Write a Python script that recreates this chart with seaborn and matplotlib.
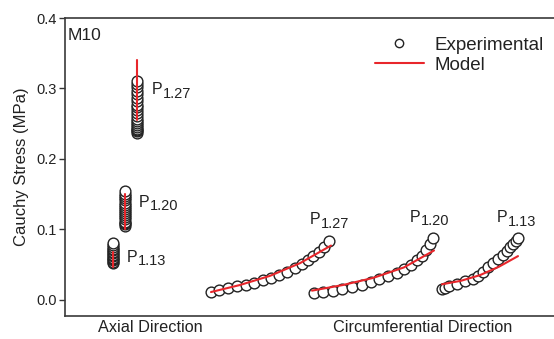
import matplotlib
matplotlib.use("Agg")
import matplotlib.pyplot as plt
import seaborn as sns
import pandas as pd
from matplotlib.lines import Line2D

# ---- data ----
# axial direction: stacked points at one position per pressure
ax_x = {"P1.13": 113, "P1.20": 125, "P1.27": 137}
ax_exp_113 = [0.052, 0.054, 0.056, 0.058, 0.060, 0.062, 0.064, 0.066, 0.068, 0.070, 0.072, 0.075, 0.078, 0.080]
ax_exp_120 = [0.105, 0.107, 0.109, 0.111, 0.114, 0.117, 0.120, 0.123, 0.126, 0.129, 0.132, 0.135, 0.138, 0.141, 0.144, 0.147, 0.150, 0.155]
ax_exp_127 = [0.237, 0.239, 0.241, 0.243, 0.245, 0.248, 0.251, 0.254, 0.257, 0.261, 0.265, 0.269, 0.273, 0.277,
              0.282, 0.287, 0.292, 0.297, 0.302, 0.306, 0.310]
ax_mod_113 = [0.047, 0.068]
ax_mod_120 = [0.100, 0.150]
ax_mod_127 = [0.255, 0.340]

# circumferential direction
c127_x = [211, 219.3, 228.3, 237.3, 245.7, 254, 262.7, 271, 279.3, 287.3, 295, 301.7, 307.7, 313.3, 319, 324, 329]
c127_y = [0.0110, 0.0132, 0.0166, 0.0189, 0.0213, 0.0245, 0.0284, 0.0316, 0.0355, 0.0401, 0.0449, 0.0511,
          0.0567, 0.0624, 0.0685, 0.0748, 0.0840]
c120_x = [314.3, 322.7, 332.7, 342.3, 352.3, 361.7, 370.7, 379.3, 388.3, 396.7, 404, 410.7, 416.7, 421.7, 426, 430, 433.3]
c120_y = [0.0095, 0.0110, 0.0128, 0.0152, 0.0180, 0.0213, 0.0251, 0.0294, 0.0331, 0.0379, 0.0435, 0.0496,
          0.0567, 0.0624, 0.0709, 0.0794, 0.0880]
c113_x = [441.7, 445, 449.3, 456.7, 465, 472.7, 478.3, 483.3, 488.3, 493.3, 498.3, 502.7, 506.7, 510, 513.3, 516, 518.3]
c113_y = [0.0150, 0.0166, 0.0189, 0.0227, 0.0260, 0.0294, 0.0340, 0.0401, 0.0464, 0.0521, 0.0577, 0.0638,
          0.0695, 0.0748, 0.0794, 0.0837, 0.0880]
m127_x = [211, 240, 270, 300, 331]
m127_y = [0.011, 0.021, 0.034, 0.052, 0.077]
m120_x = [312, 343, 373, 404, 434]
m120_y = [0.013, 0.021, 0.031, 0.046, 0.070]
m113_x = [442, 461, 480, 499, 518]
m113_y = [0.022, 0.027, 0.035, 0.047, 0.062]

yticks = [0.0, 0.1, 0.2, 0.3, 0.4]
ytick_labels = ["0.0", "0.1", "0.2", "0.3", "0.4"]
pressure_labels = ["1.27", "1.20", "1.13", "1.27", "1.20", "1.13"]
label_x = [152, 139, 127, 310, 410, 497]
label_y = [0.309, 0.149, 0.071, 0.124, 0.128, 0.127]

sns.set_theme(style="white")
plt.rcParams['font.family'] = ['Liberation Sans', 'DejaVu Sans']

fig = plt.figure(figsize=(5.54, 3.39), dpi=100)
ax = fig.add_axes([65/554, 1-316/339, (560-65)/554, (316-18)/339])

exp_frames = []
for key, vals in [("P1.13", ax_exp_113), ("P1.20", ax_exp_120), ("P1.27", ax_exp_127)]:
    exp_frames.append(pd.DataFrame({"x": [ax_x[key]] * len(vals), "y": vals}))
for xs, ys in [(c127_x, c127_y), (c120_x, c120_y), (c113_x, c113_y)]:
    exp_frames.append(pd.DataFrame({"x": xs, "y": ys}))
exp_df = pd.concat(exp_frames, ignore_index=True)

sns.scatterplot(data=exp_df, x="x", y="y", ax=ax, marker="o", s=60,
                facecolor="white", edgecolor="#222222", linewidth=1.0, zorder=2)

red = "#e8262b"
model_sets = [([ax_x["P1.13"]] * 2, ax_mod_113), ([ax_x["P1.20"]] * 2, ax_mod_120),
              ([ax_x["P1.27"]] * 2, ax_mod_127), (m127_x, m127_y), (m120_x, m120_y), (m113_x, m113_y)]
for xs, ys in model_sets:
    sns.lineplot(x=xs, y=ys, ax=ax, color=red, lw=1.5, zorder=3, sort=False, estimator=None)

ax.set_xlim(65, 560)
ax.set_ylim(-0.023, 0.4)
ax.set_yticks(yticks)
ax.set_yticklabels(ytick_labels)
ax.set_xticks([])
ax.set_xlabel("")
ax.set_ylabel("Cauchy Stress (MPa)", fontsize=12, color="#222222", labelpad=5)
ax.tick_params(axis="y", direction="out", length=4, width=1, color="#333333",
               labelsize=10.5, labelcolor="#222222", left=True, pad=2)
for side in ["left", "top", "bottom"]:
    ax.spines[side].set_color("#3a3a3a")
    ax.spines[side].set_linewidth(1.2)
ax.spines["right"].set_visible(False)

ax.text(68, 0.386, "M10", ha="left", va="top", fontsize=12.5, color="#222222")
for lab, lx, ly in zip(pressure_labels, label_x, label_y):
    ax.text(lx, ly, "P", ha="left", va="top", fontsize=11.5, color="#222222")
    ax.annotate(lab, xy=(lx, ly), xytext=(8.0, -3.2), textcoords="offset points",
                ha="left", va="top", fontsize=10.5, color="#222222")

fig.text(150/554, 1-328/339, "Axial Direction", ha="center", va="center", fontsize=11.7, color="#222222")
fig.text(423/554, 1-328/339, "Circumferential Direction", ha="center", va="center", fontsize=11.7, color="#222222")

handles = [Line2D([], [], marker="o", ls="none", mfc="white", mec="#222222", ms=6),
           Line2D([], [], color=red, lw=1.5)]
leg = ax.legend(handles, ["Experimental", "Model"], loc="upper right",
                bbox_to_anchor=((553 - 65) / (560 - 65) + 0.005, 0.975),
                frameon=False, fontsize=13.5, handlelength=2.6, handletextpad=0.6, labelspacing=0.15,
                borderaxespad=0.2)
for t in leg.get_texts():
    t.set_color("#222222")

fig.savefig("out.png", dpi=100)
